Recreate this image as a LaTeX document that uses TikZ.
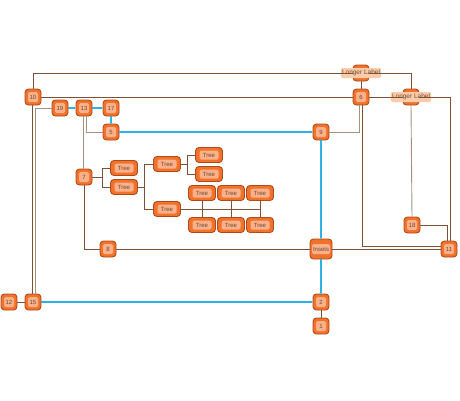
\documentclass[tikz,border=0pt]{standalone}
\usepackage{fontspec}
\setmainfont{Liberation Sans}
\usetikzlibrary{arrows.meta}
\definecolor{nodefill}{HTML}{F2722C}
\definecolor{nodeline}{HTML}{B04A18}
\definecolor{innerfill}{HTML}{FAB088}
\definecolor{txtcol}{HTML}{6A4A3A}
\definecolor{lblfill}{HTML}{FCCBA8}
\definecolor{dark}{HTML}{7B5237}
\definecolor{tan}{HTML}{A89080}
\definecolor{flowblue}{HTML}{2BB3E6}
\begin{document}
\begin{tikzpicture}[x=1pt, y=-1pt,
    box/.style={draw=nodeline, fill=nodefill, rounded corners=3.5pt, line width=0.9pt, minimum width=16pt, minimum height=16pt, inner sep=0pt},
    lbl/.style={fill=innerfill, rounded corners=1.5pt, inner sep=0.8pt, minimum width=10pt, minimum height=10pt, text=txtcol, font=\fontsize{6}{7}\selectfont},
    num/.style={box, label={[lbl]center:#1}},
    tree/.style={box, minimum width=27pt, minimum height=15pt, label={[lbl, minimum width=19pt, minimum height=9pt]center:Tree}},
    edgelbl/.style={fill=lblfill, rounded corners=2pt, inner sep=1.2pt, minimum height=10pt, text=txtcol, font=\fontsize{6.5}{7}\selectfont},
    link/.style={draw=dark, line width=0.8pt},
    linkl/.style={draw=tan, line width=0.9pt},
    flow/.style={draw=flowblue, line width=1.2pt, -{To[length=1.5pt, width=2.5pt]}}]
  \useasboundingbox (0,0) rectangle (460,400);
  % numbered nodes
  \node[num=10] (n10) at (33,97) {};
  \node[num=19] (n19) at (60,108) {};
  \node[num=13] (n13) at (84,108) {};
  \node[num=17] (n17) at (111,108) {};
  \node[num=5] (n5) at (111,132) {};
  \node[num=9] (n9) at (321,132) {};
  \node[num=6] (n6) at (361,97) {};
  \node[num=7] (n7) at (84,177) {};
  \node[num=8] (n8) at (108,249) {};
  \node[num=18] (n18) at (412,225) {};
  \node[num=11] (n11) at (449,249) {};
  \node[num=15] (n15) at (33,302) {};
  \node[num=12] (n12) at (9,302) {};
  \node[num=2] (n2) at (321,302) {};
  \node[num=1] (n1) at (321,326) {};
  \node[box, minimum width=22pt, minimum height=20pt, label={[lbl, minimum width=18pt]center:Insets}] (insets) at (321,249) {};
  % nodes under the long labels
  \node[box, label={[edgelbl]center:Longer Label}] (ll1) at (361,73) {};
  \node[box, label={[edgelbl]center:Longer Label}] (ll2) at (411,97) {};
  % tree
  \node[tree] (ta) at (124,168) {};
  \node[tree] (tb) at (124,187) {};
  \node[tree] (tc) at (167,164) {};
  \node[tree] (td) at (167,209) {};
  \node[tree] (te) at (209,155) {};
  \node[tree] (tf) at (209,174) {};
  \node[tree] (t1) at (202,193) {};
  \node[tree] (t2) at (231,193) {};
  \node[tree] (t3) at (260,193) {};
  \node[tree] (t4) at (202,225) {};
  \node[tree] (t5) at (231,225) {};
  \node[tree] (t6) at (260,225) {};

  % brown connectors
  \draw[link] (n10.north) |- (ll1.west);
  \draw[link] (ll1.east) -| (ll2.north);
  \draw[link] (ll1.south) -- (n6.north);
  \draw[link] (n10.east) -- (n6.west);
  \draw[link] (n6.east) -- (ll2.west);
  \draw[link] (ll2.east) -| ([xshift=1.5pt]n11.north);
  \draw[linkl] ([xshift=-2pt]n6.south) |- (n9.east);
  \draw[link] ([xshift=1pt]n6.south) |- ([yshift=3pt]n11.west);
  \draw[linkl] (ll2.south) -- (n18.north);
  \draw[link] (n18.east) -| ([xshift=-2pt]n11.north);
  \draw[link] (insets.east) -- (n11.west);
  \draw[link] (n8.east) -- (insets.west);
  \draw[link] (n7.south) |- (n8.west);
  \draw[linkl] ([xshift=-1pt]n13.south) -- ([xshift=-1pt]n7.north);
  \draw[linkl] ([xshift=2pt]n13.south) |- (n5.west);
  \draw[link] ([xshift=-1pt]n10.south) -- ([xshift=-1pt]n15.north);
  \draw[linkl] (n19.west) -| ([xshift=2.5pt]n15.north);
  \draw[link] (n15.west) -- (n12.east);
  \draw[link] (n2.south) -- (n1.north);
  % blue connectors
  \draw[flow] (n19.east) -- (n13.west);
  \draw[flow] (n13.east) -- (n17.west);
  \draw[flow] (n17.south) -- (n5.north);
  \draw[flow] (n5.east) -- (n9.west);
  \draw[flow] (n9.south) -- (insets.north);
  \draw[flow] (insets.south) -- (n2.north);
  \draw[flow] (n15.east) -- (n2.west);
  % tree connectors
  \draw[link] (n7.east) -- ++(11,0);
  \draw[link] (ta.west) -- ++(-7.5,0) |- (tb.west);
  \draw[link] (tb.east) -- ++(7.5,0);
  \draw[link] (tc.west) -- ++(-8.5,0) |- (td.west);
  \draw[link] (tc.east) -- ++(7.5,0);
  \draw[link] (te.west) -- ++(-7.5,0) |- (tf.west);
  \draw[link] (td.east) -- (t3.south |- td.east);
  \draw[link] (t1.south) -- (t4.north);
  \draw[link] (t2.south) -- (t5.north);
  \draw[link] (t3.south) -- (t6.north);
\end{tikzpicture}
\end{document}
